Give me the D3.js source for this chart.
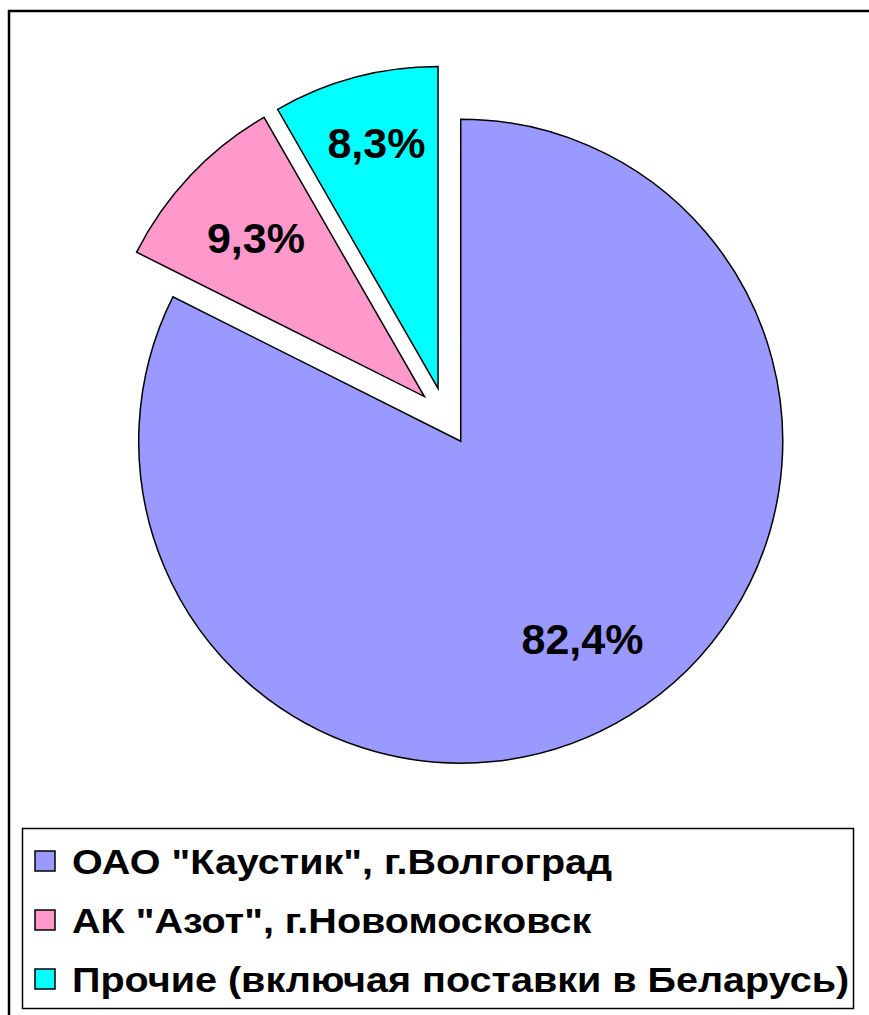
<!DOCTYPE html>
<html>
<head>
<meta charset="utf-8">
<script src="https://cdn.jsdelivr.net/npm/d3@7"></script>
<style>
  body { margin: 0; background: #fff; }
  text { font-family: "Liberation Sans", Arial, sans-serif; font-weight: bold; }
</style>
</head>
<body>
<svg id="chart" width="869" height="1015"></svg>
<script>
// data
const categories = [
  'ОАО "Каустик", г.Волгоград',
  'АК "Азот", г.Новомосковск',
  "Прочие (включая поставки в Беларусь)"
];
const values = [82.4, 9.3, 8.3];
const colors = ["#9999FF", "#FF99CC", "#00FFFF"];

const svg = d3.select("#chart");

// outer chart frame (runs off the right/bottom edge)
svg.append("rect")
  .attr("x", 9).attr("y", 11)
  .attr("width", 1000).attr("height", 1100)
  .attr("fill", "#fff")
  .attr("stroke", "#000")
  .attr("stroke-width", 2.5);

const cx = 445.5, cy = 416.5;
const radius = 322;
const explode = 29;

const pie = d3.pie().sort(null).value(d => d)
  .startAngle(0).endAngle(2 * Math.PI);
const arcs = pie(values);
const arc = d3.arc().innerRadius(0).outerRadius(radius);

const g = svg.append("g").attr("transform", `translate(${cx},${cy})`);

const slices = g.selectAll("g.slice")
  .data(arcs)
  .enter()
  .append("g")
  .attr("class", "slice")
  .attr("transform", d => {
    const a = (d.startAngle + d.endAngle) / 2;
    return `translate(${Math.sin(a) * explode},${-Math.cos(a) * explode})`;
  });

slices.append("path")
  .attr("d", arc)
  .attr("fill", (d, i) => colors[i])
  .attr("stroke", "#000")
  .attr("stroke-width", 1.5)
  .attr("stroke-linejoin", "miter");

// percentage labels
slices.append("text")
  .attr("transform", (d, i) => {
    const a = (d.startAngle + d.endAngle) / 2;
    const r = radius * (i === 2 ? 0.79 : 0.72);
    return `translate(${Math.sin(a) * r + (i === 2 ? 4 : 0)},${-Math.cos(a) * r})`;
  })
  .attr("text-anchor", "middle")
  .attr("dy", "0.36em")
  .attr("font-size", 43)
  .text(d => d3.format(".1f")(d.value).replace(".", ",") + "%");

// legend
const legend = svg.append("g");
legend.append("rect")
  .attr("x", 22.5).attr("y", 828.5)
  .attr("width", 831).attr("height", 180)
  .attr("fill", "#fff")
  .attr("stroke", "#000")
  .attr("stroke-width", 1.5);

const rowY = d3.scalePoint().domain(d3.range(categories.length)).range([861, 979]);

const items = legend.selectAll("g.item")
  .data(categories)
  .enter()
  .append("g")
  .attr("class", "item")
  .attr("transform", (d, i) => `translate(0,${rowY(i)})`);

items.append("rect")
  .attr("x", 35).attr("y", -10)
  .attr("width", 20).attr("height", 20)
  .attr("fill", (d, i) => colors[i])
  .attr("stroke", "#000")
  .attr("stroke-width", 1.5);

// the original legend font is a little wider than Arial, so stretch it
items.append("text")
  .attr("transform", "translate(72,0) scale(1.13,1)")
  .attr("dy", "0.36em")
  .attr("font-size", 35)
  .text(d => d);
</script>
</body>
</html>
